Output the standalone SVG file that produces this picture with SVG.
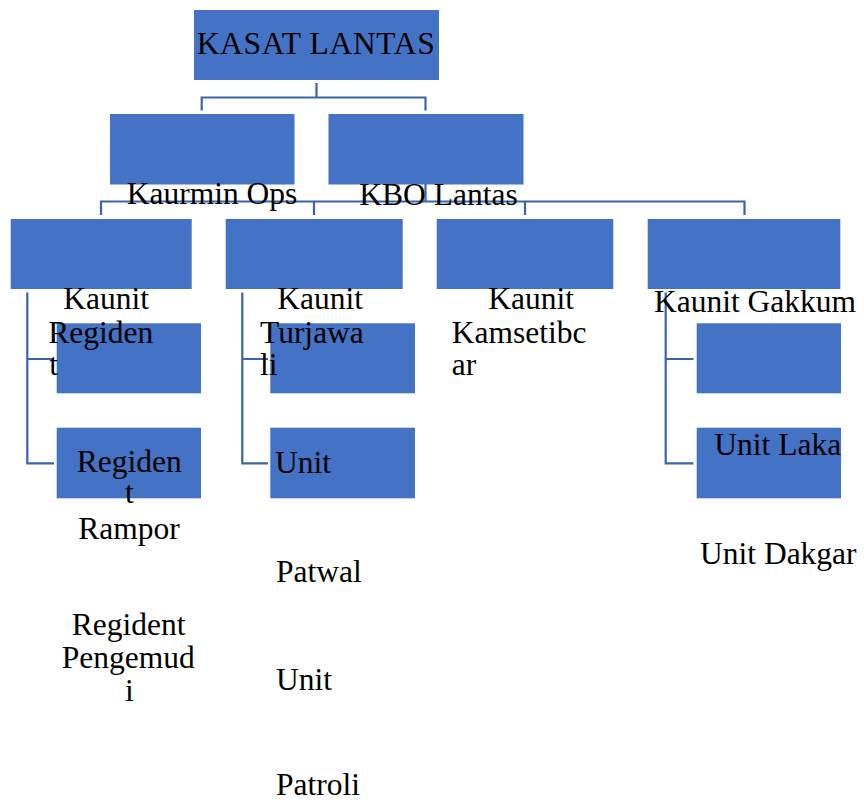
<svg xmlns="http://www.w3.org/2000/svg" width="864" height="800" viewBox="0 0 864 800">
<style>
.box{fill:#4472C4;}
.t{font-family:"Liberation Serif","Times New Roman",serif;font-size:31.5px;fill:#000;}
.c{fill:none;stroke:#3B64AD;stroke-width:2.2;}
</style>
<rect width="864" height="800" fill="#fff"/>
<g id="connectors">
<path class="c" d="M316.5,83 V97.5 M201.7,110.5 V97.5 H425.5 V110.5"/>
<path class="c" d="M425.5,184 V201.5 M101,215 V201.5 H744.5 V215 M314,201.5 V215 M525,201.5 V215"/>
<path class="c" d="M27.3,292.5 V463.3 H54 M27.3,359 H54"/>
<path class="c" d="M242.3,292.5 V463.3 H268 M242.3,359 H268"/>
<path class="c" d="M665.7,292.5 V463.3 H693.5 M665.7,359 H693.5"/>
</g>
<g id="kasat">
<rect class="box" x="194" y="10" width="245" height="70"/>
<text class="t" x="196.7" y="54" textLength="238">KASAT LANTAS</text>
</g>
<g id="kaurmin">
<rect class="box" x="110" y="114" width="184.5" height="70.5"/>
<text class="t" x="126.7" y="204">Kaurmin Ops</text>
</g>
<g id="kbo">
<rect class="box" x="328.5" y="114" width="195" height="70.5"/>
<text class="t" x="359.3" y="204.5">KBO Lantas</text>
</g>
<g id="regident-pengemudi">
<rect class="box" x="56.7" y="427.7" width="144.3" height="70.6"/>
<text class="t" x="71.7" y="635">Regident</text>
<text class="t" x="61.7" y="668.3">Pengemud</text>
<text class="t" x="125" y="701">i</text>
</g>
<g id="regident-rampor">
<rect class="box" x="56.7" y="323.3" width="144.3" height="70"/>
<text class="t" x="76.7" y="471.7">Regiden</text>
<text class="t" x="125" y="503.3">t</text>
<text class="t" x="78.3" y="539.3">Rampor</text>
</g>
<g id="unit-patroli">
<rect class="box" x="270.3" y="427.7" width="144.7" height="70.6"/>
<text class="t" x="276" y="690">Unit</text>
<text class="t" x="276" y="794.5">Patroli</text>
</g>
<g id="unit-patwal">
<rect class="box" x="270.3" y="323.3" width="144.7" height="70"/>
<text class="t" x="275" y="473.3">Unit</text>
<text class="t" x="276" y="581.7">Patwal</text>
</g>
<g id="unit-dakgar">
<rect class="box" x="696.7" y="427.7" width="144.3" height="70.6"/>
<text class="t" x="700" y="564">Unit Dakgar</text>
</g>
<g id="unit-laka">
<rect class="box" x="696.7" y="323.3" width="144.3" height="70"/>
<text class="t" x="714.3" y="455">Unit Laka</text>
</g>
<g id="regident">
<rect class="box" x="10.7" y="219" width="181" height="70"/>
<text class="t" x="63.3" y="308.5">Kaunit</text>
<text class="t" x="48.3" y="342.5">Regiden</text>
<text class="t" x="49.3" y="375">t</text>
</g>
<g id="turjawali">
<rect class="box" x="225.7" y="219" width="177" height="70"/>
<text class="t" x="277.3" y="308.5">Kaunit</text>
<text class="t" x="260" y="342.5">Turjawa</text>
<text class="t" x="260" y="375">li</text>
</g>
<g id="kamsetibcar">
<rect class="box" x="436.7" y="219" width="176.6" height="70"/>
<text class="t" x="488.3" y="308.5">Kaunit</text>
<text class="t" x="451.7" y="342.5">Kamsetibc</text>
<text class="t" x="451.7" y="375">ar</text>
</g>
<g id="gakkum">
<rect class="box" x="647.7" y="219" width="192.6" height="70"/>
<text class="t" x="654" y="311.7">Kaunit Gakkum</text>
</g>
</svg>
